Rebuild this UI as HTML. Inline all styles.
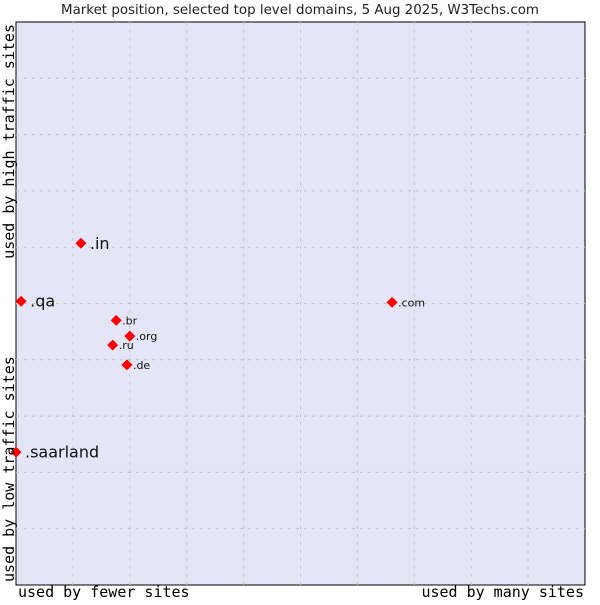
<!DOCTYPE html>
<html><head><meta charset="utf-8"><style>
body{margin:0;background:#fff;}
svg text{font-family:"DejaVu Sans","Liberation Sans",sans-serif;}
.mono{font-family:"DejaVu Sans Mono","Liberation Mono",monospace;}
</style></head><body>
<svg id="chart" width="600" height="600" xmlns="http://www.w3.org/2000/svg">
<text x="300" y="14" font-size="13.4" text-anchor="middle" fill="#222">Market position, selected top level domains, 5 Aug 2025, W3Techs.com</text>
<rect x="16" y="22" width="569" height="563" fill="#e4e6f8" stroke="#000" stroke-width="1"/>
<g id="grid"></g>
<g id="points"></g>
<text class="mono" x="18" y="597" font-size="15" fill="#000">used by fewer sites</text>
<text class="mono" x="584" y="597" font-size="15" fill="#000" text-anchor="end">used by many sites</text>
<text class="mono" transform="translate(14,24) rotate(-90)" font-size="15" fill="#000" text-anchor="end">used by high traffic sites</text>
<text class="mono" transform="translate(14,582) rotate(-90)" font-size="15" fill="#000">used by low traffic sites</text>
</svg>
<script>
const labels = [".in", ".qa", ".com", ".br", ".org", ".ru", ".de", ".saarland"];
const xValues = [11.4, 0.9, 66.1, 17.6, 20.0, 17.0, 19.5, 0];
const yValues = [60.7, 50.4, 50.2, 47.0, 44.2, 42.6, 39.1, 23.6];
const bigLabel = [true, true, false, false, false, false, false, true];
const gridTicks = [10,20,30,40,50,60,70,80,90];
const L=16,T=22,W=569,H=563;
const sx=v=>L+v/100*W, sy=v=>T+H-v/100*H;
const NS="http://www.w3.org/2000/svg";
const grid=document.getElementById('grid');
gridTicks.forEach(t=>{
  const v=document.createElementNS(NS,'line');
  
  
  v.setAttribute('x1',sx(t));v.setAttribute('x2',sx(t));v.setAttribute('y1',T);v.setAttribute('y2',T+H);
  v.setAttribute('stroke','#c4c4c4');v.setAttribute('stroke-dasharray','3,5');
  grid.appendChild(v);
  const h=document.createElementNS(NS,'line');
  
  
  h.setAttribute('x1',L);h.setAttribute('x2',L+W);h.setAttribute('y1',sy(t));h.setAttribute('y2',sy(t));
  h.setAttribute('stroke','#c4c4c4');h.setAttribute('stroke-dasharray','3,5');
  grid.appendChild(h);
});
const pts=document.getElementById('points');
labels.forEach((lab,i)=>{
  const x=sx(xValues[i]),y=sy(yValues[i]);
  const d=document.createElementNS(NS,'polygon');
  
  
  d.setAttribute('points',`${x},${y-5.5} ${x+5.5},${y} ${x},${y+5.5} ${x-5.5},${y}`);
  d.setAttribute('fill','#f00');
  pts.appendChild(d);
  const t=document.createElementNS(NS,'text');
  
  
  t.setAttribute('x',x+(bigLabel[i]?9:6));
  t.setAttribute('y',y+(bigLabel[i]?5.5:4));
  t.setAttribute('font-size',bigLabel[i]?16:11);
  t.setAttribute('fill','#111');
  t.textContent=lab;
  pts.appendChild(t);
});
</script>
</body></html>
